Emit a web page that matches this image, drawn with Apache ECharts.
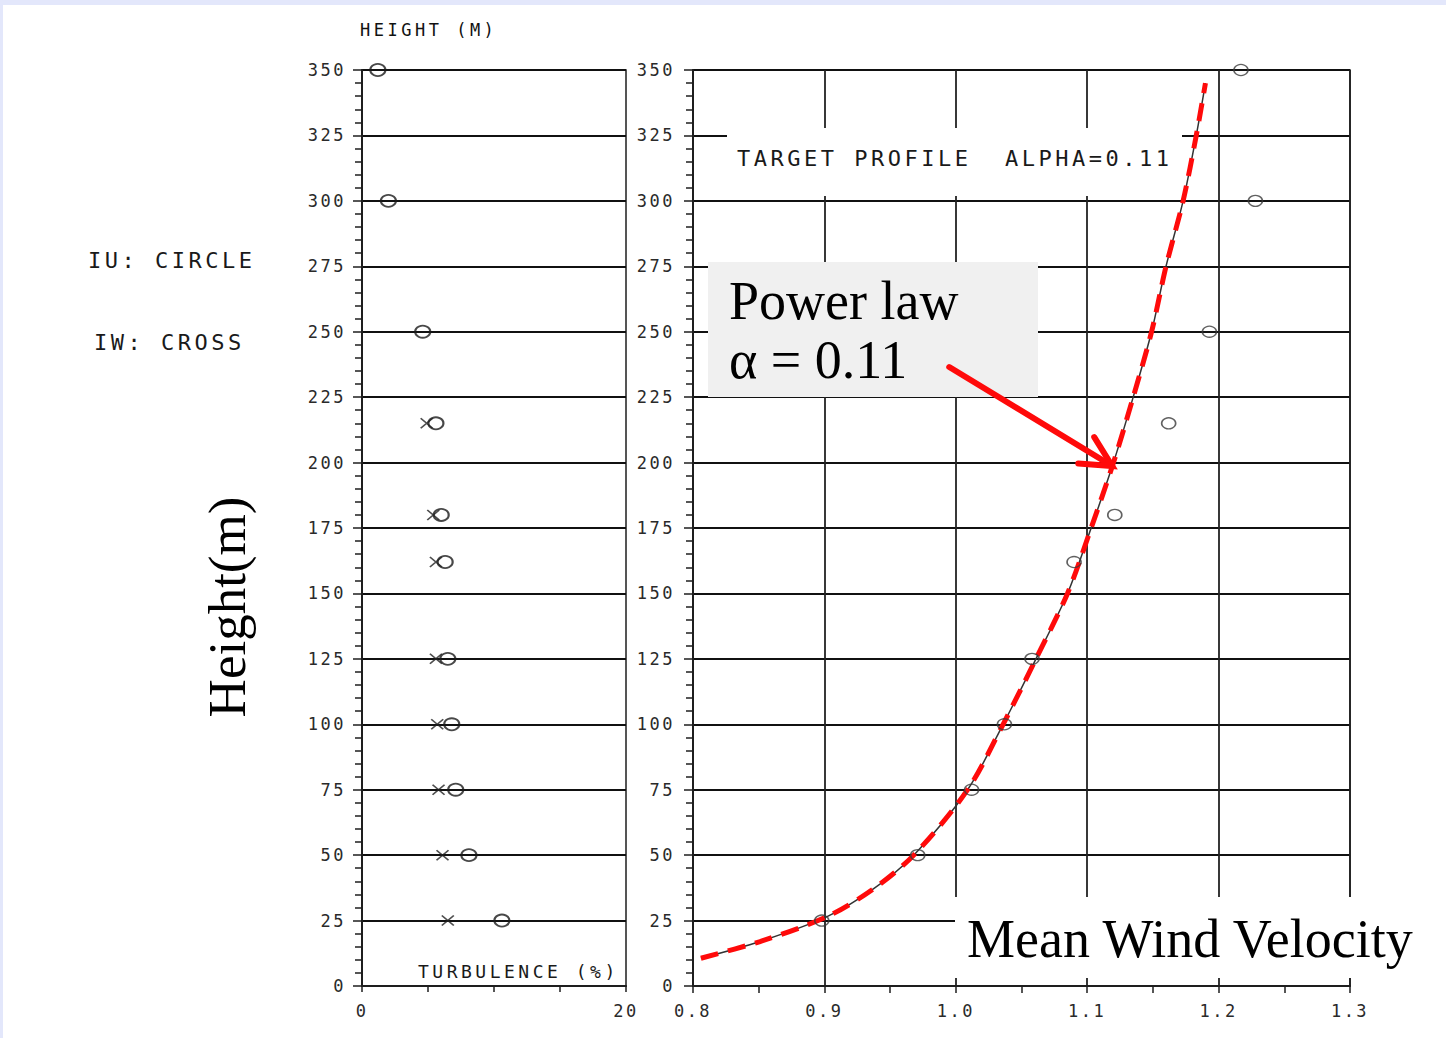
<!DOCTYPE html>
<html>
<head>
<meta charset="utf-8">
<script src="https://cdn.jsdelivr.net/npm/echarts@6/dist/echarts.min.js"></script>
<style>
  html, body { margin: 0; padding: 0; background: #ffffff; }
  #chart { width: 1446px; height: 1038px; }
  /* plotter-style lettering: wide tracking on the monospaced labels */
  #chart text[style*="DejaVu Sans Mono"] { letter-spacing: 2.5px; white-space: pre; }
  #chart text[style*="monospace"] { letter-spacing: 3.5px; }
</style>
</head>
<body>
<div id="chart"></div>
<script>
// Measurement heights (m)
const heights = [350, 300, 250, 215, 180, 162, 125, 100, 75, 50, 25];
// Longitudinal turbulence intensity IU (%)
const turbIU = [1.2, 2.0, 4.6, 5.6, 6.0, 6.3, 6.5, 6.8, 7.1, 8.1, 10.6];
// Vertical turbulence intensity IW (%)
const heightsIW = [215, 180, 162, 125, 100, 75, 50, 25];
const turbIW = [4.9, 5.4, 5.6, 5.6, 5.7, 5.8, 6.1, 6.5];
// Normalised mean wind velocity
const meanVel = [1.217, 1.228, 1.193, 1.162, 1.121, 1.090, 1.058, 1.037, 1.012, 0.971, 0.898];
// Target power-law profile (alpha = 0.11)
const profileHeights = [10.6, 17, 26.5, 37, 50, 75, 100, 125, 150, 175, 200, 225, 250, 275, 300, 325, 345];
const profileVel = [0.806, 0.851, 0.902, 0.937, 0.968, 1.009, 1.036, 1.061, 1.085, 1.103, 1.120, 1.135, 1.149, 1.160, 1.173, 1.183, 1.190];
// Axis ranges and ticks
const heightRange = [0, 350];
const heightStep = 25;
const turbRange = [0, 20];
const turbStep = 5;
const velRange = [0.8, 1.3];
const velStep = 0.1;
// Annotation arrow (velocity, height): tail and tip
const arrowTail = [0.995, 236.5];
const arrowTip = [1.119, 198.7];

const INK = '#1e1e1e';
const MONO = 'DejaVu Sans Mono';               // tick numerals
const MONO_LABEL = 'DejaVu Sans Mono, monospace'; // plotter captions
const SERIF = 'Liberation Serif';

const zip = (xs, ys) => xs.map((x, i) => [x, ys[i]]);

const chart = echarts.init(document.getElementById('chart'), null, { renderer: 'svg' });

function heightAxis(gridIndex, margin) {
  return {
    type: 'value', gridIndex,
    min: heightRange[0], max: heightRange[1], interval: heightStep,
    axisLine: { show: true, lineStyle: { color: INK, width: 2 } },
    axisTick: { show: true, length: 9, lineStyle: { color: INK, width: 1.5 } },
    minorTick: { show: true, splitNumber: 5, length: 7, lineStyle: { color: INK, width: 1.5 } },
    splitLine: { show: true, lineStyle: { color: '#111', width: 2 } },
    axisLabel: { color: '#2a2a2a', fontFamily: MONO, fontSize: 17, margin }
  };
}

const bgElements = [
  { type: 'rect', id: 'edgeTop', z: 1, shape: { x: 0, y: 0, width: 1446, height: 5 }, style: { fill: '#e3e7fb' } },
  { type: 'rect', id: 'edgeLeft', z: 1, shape: { x: 0, y: 0, width: 3, height: 1038 }, style: { fill: '#e3e7fb' } },
  // label panels over the velocity grid
  { type: 'rect', id: 'targetBox', z: 5, shape: { x: 727, y: 128, width: 455, height: 68 }, style: { fill: '#ffffff' } },
  { type: 'rect', id: 'powerBox', z: 5, shape: { x: 708, y: 262, width: 330, height: 135 }, style: { fill: '#f0f0f0' } },
  { type: 'rect', id: 'velBox', z: 5, shape: { x: 955, y: 897, width: 491, height: 81 }, style: { fill: '#ffffff' } },
  // texts
  { type: 'text', id: 'tHeight', z: 20, x: 360, y: 30, style: { text: 'HEIGHT (M)', font: '17px ' + MONO_LABEL, fill: '#111', verticalAlign: 'middle' } },
  { type: 'text', id: 'tIU', z: 20, x: 88, y: 260, style: { text: 'IU: CIRCLE', font: '22px ' + MONO_LABEL, fill: '#1a1a1a', verticalAlign: 'middle' } },
  { type: 'text', id: 'tIW', z: 20, x: 94, y: 342, style: { text: 'IW: CROSS', font: '22px ' + MONO_LABEL, fill: '#1a1a1a', verticalAlign: 'middle' } },
  { type: 'text', id: 'tTurb', z: 20, x: 418, y: 971, style: { text: 'TURBULENCE (%)', font: '18px ' + MONO_LABEL, fill: '#1a1a1a', verticalAlign: 'middle' } },
  { type: 'text', id: 'tTarget', z: 20, x: 737, y: 158, style: { text: 'TARGET PROFILE  ALPHA=0.11', font: '22px ' + MONO_LABEL, fill: '#1a1a1a', verticalAlign: 'middle' } },
  { type: 'text', id: 'tPower', z: 20, x: 729, y: 301, style: { text: 'Power law', font: '54px ' + SERIF, fill: '#000', verticalAlign: 'middle' } },
  { type: 'text', id: 'tAlpha', z: 20, x: 729, y: 360, style: { text: 'α = 0.11', font: '54px ' + SERIF, fill: '#000', verticalAlign: 'middle' } },
  { type: 'text', id: 'tVel', z: 20, x: 967, y: 939, style: { text: 'Mean Wind Velocity', font: '54px ' + SERIF, fill: '#000', verticalAlign: 'middle' } },
  { type: 'text', id: 'tYName', z: 20, x: 227, y: 607, rotation: Math.PI / 2, style: { text: 'Height(m)', font: '53px ' + SERIF, fill: '#000', align: 'center', verticalAlign: 'middle' } }
];

const option = {
  animation: false,
  backgroundColor: '#ffffff',
  grid: [
    { left: 362, top: 70, width: 264, height: 916, show: true, borderColor: INK, borderWidth: 1.5, backgroundColor: 'transparent' },
    { left: 693, top: 70, width: 657, height: 916, show: true, borderColor: INK, borderWidth: 1.5, backgroundColor: 'transparent' }
  ],
  xAxis: [
    {
      type: 'value', gridIndex: 0,
      min: turbRange[0], max: turbRange[1], interval: turbStep,
      axisLine: { show: true, lineStyle: { color: INK, width: 2 } },
      axisTick: { show: true, length: 6, lineStyle: { color: INK, width: 1.5 } },
      splitLine: { show: false },
      axisLabel: {
        color: '#2a2a2a', fontFamily: MONO, fontSize: 17, margin: 16,
        formatter: v => (v === turbRange[0] || v === turbRange[1]) ? String(v) : ''
      }
    },
    {
      type: 'value', gridIndex: 1,
      min: velRange[0], max: velRange[1], interval: velStep,
      axisLine: { show: true, lineStyle: { color: INK, width: 2 } },
      axisTick: { show: true, length: 7, lineStyle: { color: INK, width: 1.5 } },
      minorTick: { show: true, splitNumber: 2, length: 7, lineStyle: { color: INK, width: 1.5 } },
      splitLine: { show: true, lineStyle: { color: '#222', width: 1.8 } },
      axisLabel: { color: '#2a2a2a', fontFamily: MONO, fontSize: 17, margin: 16, formatter: v => v.toFixed(1) }
    }
  ],
  yAxis: [heightAxis(0, 16), heightAxis(1, 18)],
  series: [
    {
      name: 'IU', type: 'scatter', xAxisIndex: 0, yAxisIndex: 0, z: 10,
      data: zip(turbIU, heights),
      symbol: 'circle', symbolSize: [15, 12],
      itemStyle: { color: 'rgba(0,0,0,0)', borderColor: '#1a1a1a', borderWidth: 2 }
    },
    {
      name: 'IW', type: 'scatter', xAxisIndex: 0, yAxisIndex: 0, z: 10,
      data: zip(turbIW, heightsIW),
      symbol: 'path://M0,0L10,8M10,0L0,8', symbolSize: [12, 10],
      itemStyle: { color: 'rgba(0,0,0,0)', borderColor: '#222', borderWidth: 1.6 }
    },
    {
      name: 'Mean velocity', type: 'scatter', xAxisIndex: 1, yAxisIndex: 1, z: 10,
      data: zip(meanVel, heights),
      symbol: 'circle', symbolSize: [14, 11],
      itemStyle: { color: 'rgba(0,0,0,0)', borderColor: '#3a3a3a', borderWidth: 1.5 }
    },
    {
      name: 'Target profile', type: 'line', xAxisIndex: 1, yAxisIndex: 1, z: 8,
      data: zip(profileVel, profileHeights),
      smooth: 0.3, showSymbol: false,
      lineStyle: { color: '#333', width: 1.5 }
    },
    {
      name: 'Power law', type: 'line', xAxisIndex: 1, yAxisIndex: 1, z: 9,
      data: zip(profileVel, profileHeights),
      smooth: 0.3, showSymbol: false,
      lineStyle: { color: '#ff0a0a', width: 5, type: [18, 10] }
    }
  ],
  graphic: { elements: bgElements }
};

chart.setOption(option);

// Arrow pointing at the power-law curve, placed in data coordinates
const finder = { xAxisIndex: 1, yAxisIndex: 1 };
const tail = chart.convertToPixel(finder, arrowTail);
const tip = chart.convertToPixel(finder, arrowTip);
const ang = Math.atan2(tail[1] - tip[1], tail[0] - tip[0]);
const headLen = 34, spread = 0.47;
const arm1 = [tip[0] + headLen * Math.cos(ang - spread), tip[1] + headLen * Math.sin(ang - spread)];
const arm2 = [tip[0] + headLen * Math.cos(ang + spread), tip[1] + headLen * Math.sin(ang + spread)];
const arrowStyle = { stroke: '#ff0a0a', lineWidth: 6, fill: null, lineCap: 'round', lineJoin: 'miter' };
option.graphic.elements = bgElements.concat([
  { type: 'line', id: 'arrowShaft', z: 21, shape: { x1: tail[0], y1: tail[1], x2: tip[0], y2: tip[1] }, style: arrowStyle },
  { type: 'polyline', id: 'arrowHead', z: 21, shape: { points: [arm1, tip, arm2] }, style: arrowStyle }
]);
chart.setOption(option, true);
</script>
</body>
</html>
